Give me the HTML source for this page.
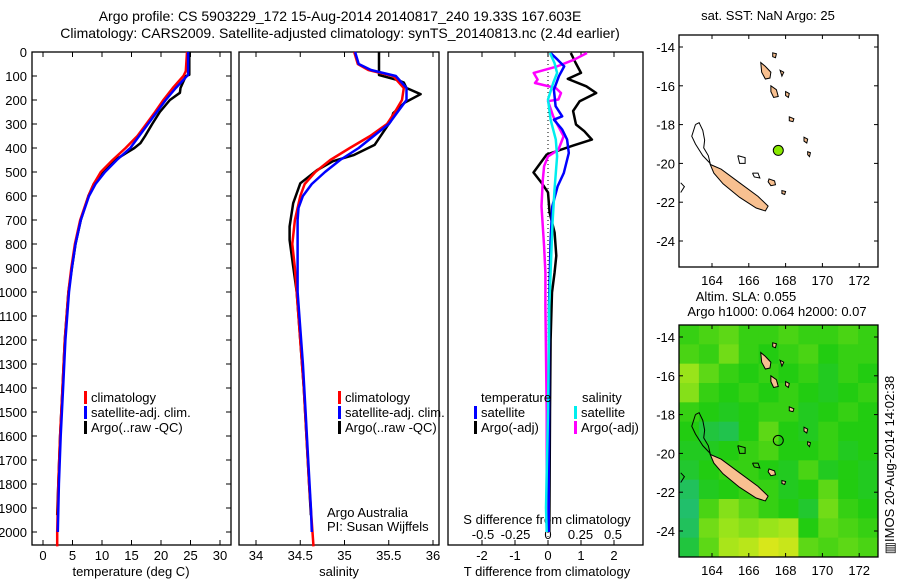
<!DOCTYPE html>
<html><head><meta charset="utf-8"><style>
html,body{margin:0;padding:0;background:#fff}
svg{display:block;font-family:"Liberation Sans",Arial,sans-serif;font-size:13px}
</style></head><body>
<svg id="s" width="900" height="580" xmlns="http://www.w3.org/2000/svg">
<text x="340" y="21" text-anchor="middle" font-size="14">Argo profile: CS 5903229_172 15-Aug-2014 20140817_240 19.33S 167.603E</text>
<text x="340" y="38" text-anchor="middle" font-size="14">Climatology: CARS2009. Satellite-adjusted climatology: synTS_20140813.nc (2.4d earlier)</text>
</svg>
<script>
// ---- data ----
const tClimD=[0,80,100,150,200,250,300,350,400,450,500,550,600,700,800,900,1000,1200,1400,1600,1800,2000,2060];
const tClimV=[24.4,24.2,23.8,22,20.4,19,17.5,16,14,11.8,9.8,8.6,7.7,6.3,5.4,4.8,4.3,3.7,3.3,2.9,2.6,2.4,2.4];
const tSatD=[0,95,150,200,300,400,450,500,550,600,700,800,900,1000,1200,1400,1600,1800,2000];
const tSatV=[24.6,24.6,22.5,20.8,17.8,14.8,12.5,10.5,8.9,7.8,6.4,5.5,4.9,4.4,3.8,3.4,3.0,2.7,2.5];
const tArgoD=[0,95,100,150,170,200,250,300,350,380,400,450,480,500,550,600,700,800,900,1000,1200,1400,1600,1800,1930];
const tArgoV=[24.8,24.8,24.2,23.3,23.2,21.5,19.8,18.5,17.3,16.5,15.5,12.2,11,10,8.6,7.7,6.4,5.5,4.9,4.3,3.7,3.3,2.9,2.6,2.4];
const sClimD=[0,50,75,100,150,200,250,300,350,400,450,500,550,600,700,800,900,1000,1400,1800,2060];
const sClimV=[35.11,35.15,35.27,35.55,35.67,35.65,35.57,35.48,35.29,35.06,34.84,34.67,34.55,34.5,34.44,34.41,34.44,34.46,34.54,34.6,34.65];
const sSatD=[0,50,75,100,150,200,250,300,350,400,450,500,550,600,650,700,1000,1300,1500,1700,1900,2000];
const sSatV=[35.12,35.16,35.3,35.58,35.7,35.7,35.6,35.5,35.33,35.16,34.95,34.78,34.63,34.53,34.48,34.47,34.47,34.53,34.56,34.59,34.62,34.63];
const sArgoD=[0,96,117,127,150,176,211,255,290,305,387,430,455,492,547,630,727,783,894,1000,1400,1800,1930];
const sArgoV=[35.39,35.39,35.6,35.67,35.7,35.86,35.68,35.55,35.52,35.49,35.34,35.1,34.87,34.69,34.5,34.42,34.38,34.38,34.42,34.46,34.54,34.6,34.62];
const dTArgoD=[4,46,87,112,143,171,205,246,302,330,365,390,427,502,544,585,669,752,849,918,1002,1200,1500,1800,2000];
const dTArgoV=[0.69,0.84,1.0,0.6,1.16,1.46,0.96,0.76,0.85,1.1,1.33,0.76,-0.04,-0.44,-0.2,0,0.05,0.2,0.25,0.2,0.12,0.08,0.06,0.05,0.04];
const dTSatD=[4,32,60,101,157,226,268,282,323,365,421,504,560,643,782,1060,1500,2000];
const dTSatV=[0.08,0.29,0.49,0.33,0.18,0.23,0.43,0.18,0.43,0.58,0.63,0.48,0.29,0.13,0.08,0.03,0.03,0.02];
const dSSatD=[4,46,87,129,198,282,365,435,574,713,1060,1500,1900,2000];
const dSSatV=[0.015,0.05,0.07,0.04,0,0.02,0.06,0.07,0.05,0.035,0.01,0,-0.015,-0.01];
const dSArgoD=[4,32,60,87,115,129,150,171,198,205,268,310,351,379,407,435,476,532,643,810,920,1060,1500,2000];
const dSArgoV=[0.3,0.2,0.07,-0.11,-0.08,-0.1,0.06,0.1,0.08,0,0.04,0.08,0.12,0.1,0.08,0,-0.03,-0.04,-0.05,-0.03,-0.02,-0.02,-0.01,-0.01];
const depthTicks=[0,100,200,300,400,500,600,700,800,900,1000,1100,1200,1300,1400,1500,1600,1700,1800,1900,2000];
const tTicks=[0,5,10,15,20,25,30];
const sTicks=[34,34.5,35,35.5,36];
const dTTicks=[-2,-1,0,1,2];
const dSTicks=[-0.5,-0.25,0,0.25,0.5];
const lonTicks=[164,166,168,170,172];
const latTicks=[-14,-16,-18,-20,-22,-24];
const sla=[
[.5,.55,.6,.5,.5,.55,.5,.5,.55,.5],
[.55,.5,.65,.5,.45,.5,.55,.45,.5,.5],
[.75,.6,.5,.45,.5,.45,.5,.4,.5,.45],
[.7,.5,.45,.5,.45,.5,.45,.4,.45,.5],
[.5,.45,.4,.45,.5,.5,.4,.45,.5,.45],
[.45,.3,.25,.45,.6,.45,.4,.5,.45,.45],
[.4,.4,.45,.5,.55,.45,.45,.5,.4,.45],
[.35,.45,.5,.5,.45,.4,.55,.4,.45,.4],
[.2,.4,.45,.5,.5,.4,.45,.6,.45,.4],
[.15,.55,.7,.6,.5,.45,.35,.65,.5,.45],
[.2,.65,.75,.7,.75,.8,.45,.6,.55,.5],
[.3,.6,.8,.85,.95,.9,.6,.55,.6,.55]];
const argoLon=167.603, argoLat=-19.33;
const islands=[
[[163.9,-20.05],[164.5,-20.3],[165.5,-21.0],[166.5,-21.7],[167.05,-22.2],[166.9,-22.45],[166.4,-22.3],[165.5,-21.75],[164.6,-21.05],[164.1,-20.5]],
[[166.65,-14.8],[166.9,-15.0],[167.2,-15.3],[167.15,-15.6],[166.9,-15.65],[166.7,-15.3]],
[[167.2,-16.0],[167.5,-16.2],[167.6,-16.55],[167.35,-16.6],[167.2,-16.3]],
[[168.2,-17.6],[168.45,-17.7],[168.4,-17.85],[168.2,-17.8]],
[[169.0,-18.65],[169.2,-18.75],[169.15,-18.95],[169.0,-18.85]],
[[169.2,-19.4],[169.35,-19.45],[169.3,-19.65],[169.2,-19.55]],
[[167.1,-20.8],[167.4,-20.9],[167.45,-21.1],[167.2,-21.15],[167.05,-20.95]],
[[167.8,-21.4],[168.0,-21.45],[167.95,-21.6],[167.8,-21.55]],
[[168.0,-16.3],[168.2,-16.4],[168.15,-16.6],[168.0,-16.5]],
[[167.7,-15.2],[167.9,-15.3],[167.8,-15.5]],
[[167.3,-14.3],[167.5,-14.35],[167.45,-14.55],[167.3,-14.5]]];
const reefs=[
[[163.1,-18.0],[163.3,-17.9],[163.5,-18.3],[163.6,-18.8],[163.55,-19.2],[163.8,-19.6],[163.9,-20.0],[163.5,-19.6],[163.1,-19.0],[162.9,-18.6],[163.1,-18.0]],
[[165.4,-19.6],[165.8,-19.7],[165.8,-20.0],[165.5,-20.0],[165.4,-19.6]],
[[166.2,-20.5],[166.5,-20.5],[166.6,-20.75],[166.3,-20.7],[166.2,-20.5]],
[[162.3,-21.0],[162.5,-21.2],[162.3,-21.5]]];

// ---- helpers ----
const S=document.getElementById('s'), NS='http://www.w3.org/2000/svg';
function mk(tag,attrs,parent){const e=document.createElementNS(NS,tag);for(const k in attrs)e.setAttribute(k,attrs[k]);(parent||S).appendChild(e);return e;}
function txt(x,y,s,anchor,extra){const e=mk('text',Object.assign({x:x,y:y,'text-anchor':anchor||'start'},extra||{}));e.textContent=s;return e;}
const yD=d=>52+0.24*d;
const xT=t=>43+5.9*t;
const xS=s=>256+88.5*(s-34);
const xdT=t=>548+33*t;
const xdS=s=>548+130*s;
function line(D,V,fx,color,w,name){
  const p=mk('polyline',{points:D.map((d,i)=>fx(V[i]).toFixed(1)+','+yD(d).toFixed(1)).join(' '),fill:'none',stroke:color,'stroke-width':w,'stroke-linejoin':'round'});
  
  
}
function frame(x0,x1,name){
  const r=mk('rect',{x:x0,y:52,width:x1-x0,height:493,fill:'none',stroke:'#000','stroke-width':1.3});
  
  
}
frame(32,231,'temperature-panel');frame(239,439,'salinity-panel');frame(448,643,'difference-panel');
depthTicks.forEach(d=>{const y=yD(d);
  mk('line',{x1:32,x2:37,y1:y,y2:y,stroke:'#000'});mk('line',{x1:226,x2:231,y1:y,y2:y,stroke:'#000'});
  const t=txt(27,y+5,String(d),'end');
  
  
});
function xticks(ticks,fx,y0){ticks.forEach(v=>{const x=fx(v);
  mk('line',{x1:x,x2:x,y1:545,y2:540,stroke:'#000'});mk('line',{x1:x,x2:x,y1:52,y2:57,stroke:'#000'});
  const t=txt(x,y0,String(v),'middle');
  
  
});}
xticks(tTicks,xT,560);xticks(sTicks,xS,560);xticks(dTTicks,xdT,560);
dSTicks.forEach(v=>{const t=txt(xdS(v),539,String(v),'middle');
  
  });
let a=txt(131,576,'temperature (deg C)','middle');
a=txt(339,576,'salinity','middle');
a=txt(547,576,'T difference from climatology','middle');
a=txt(547,524,'S difference from climatology','middle');
a=txt(327,517,'Argo Australia');
a=txt(327,531,'PI: Susan Wijffels');
mk('line',{x1:548,x2:548,y1:52,y2:545,stroke:'#000','stroke-dasharray':'1,3'});
line(tArgoD,tArgoV,xT,'#000',2.5,'temp-argo-line');
line(tClimD,tClimV,xT,'#f00',2.5,'temp-climatology-line');
line(tSatD,tSatV,xT,'#00f',2.5,'temp-satellite-line');
line(sArgoD,sArgoV,xS,'#000',2.5,'sal-argo-line');
line(sClimD,sClimV,xS,'#f00',2.5,'sal-climatology-line');
line(sSatD,sSatV,xS,'#00f',2.5,'sal-satellite-line');
line(dTArgoD,dTArgoV,xdT,'#000',2.5,'tdiff-argo-line');
line(dSArgoD,dSArgoV,xdS,'#f0f',2.5,'sdiff-argo-line');
line(dTSatD,dTSatV,xdT,'#00f',2.5,'tdiff-satellite-line');
line(dSSatD,dSSatV,xdS,'#0ee',2.5,'sdiff-satellite-line');
function leg(x,y,c,s){mk('rect',{x:x,y:y-11,width:3,height:13,fill:c});const t=txt(x+7,y,s);
  }
[[84,'#f00','climatology'],[84,'#00f','satellite-adj. clim.'],[84,'#000','Argo(..raw -QC)']].forEach((e,i)=>leg(e[0],402+i*15,e[1],e[2]));
[[338,'#f00','climatology'],[338,'#00f','satellite-adj. clim.'],[338,'#000','Argo(..raw -QC)']].forEach((e,i)=>leg(e[0],402+i*15,e[1],e[2]));
a=txt(481,402,'temperature');
a=txt(582,402,'salinity');
leg(474,417,'#00f','satellite');leg(474,432,'#000','Argo(-adj)');leg(574,417,'#0ee','satellite');leg(574,432,'#f0f','Argo(-adj)');

// ---- maps ----
const xL=lon=>712+18.4*(lon-164);
const stops=[[0,[32,184,152]],[0.45,[34,204,17]],[0.75,[153,228,26]],[1,[232,232,26]]];
function col(v){
  for(let i=1;i<stops.length;i++){
    if(v<=stops[i][0]){
      const f=(v-stops[i-1][0])/(stops[i][0]-stops[i-1][0]);
      const c=stops[i-1][1].map((c0,j)=>Math.round(c0+f*(stops[i][1][j]-c0)));
      return 'rgb('+c.join(',')+')';
    }
  }
  return 'rgb(232,232,26)';
}
function map(top,lat0y,name,bg){
  const yL=lat=>lat0y+19.4*(-14-lat);
  const g=mk('g',{});
  if(bg){
    const cp=mk('clipPath',{id:'cp'+top},g);mk('rect',{x:679,y:top,width:199,height:232},cp);
    const hg=mk('g',{'clip-path':'url(#cp'+top+')'},g);
    const cols=sla[0].length, rows=sla.length, cw=199/cols, rh=232/rows;
    sla.forEach((r,ri)=>r.forEach((v,ci)=>{
      const c=mk('rect',{x:679+ci*cw,y:top+ri*rh,width:cw+0.5,height:rh+0.5,fill:col(v)},hg);
      
      
    }));
  }
  reefs.forEach(r=>mk('polyline',{points:r.map(p=>xL(p[0])+','+yL(p[1])).join(' '),fill:'none',stroke:'#000','stroke-width':1},g));
  islands.forEach(r=>{const p=mk('polygon',{points:r.map(p=>xL(p[0])+','+yL(p[1])).join(' '),fill:'#f8c090',stroke:'#000','stroke-width':1},g);
    });
  const c=mk('circle',{cx:xL(argoLon),cy:yL(argoLat),r:5,fill:bg?'none':'#88e800',stroke:'#000','stroke-width':1},g);
  
  mk('rect',{x:679,y:top,width:199,height:232,fill:'none',stroke:'#000','stroke-width':1.3},g);
  lonTicks.forEach(l=>{const x=xL(l);mk('line',{x1:x,x2:x,y1:top,y2:top+4,stroke:'#000'},g);mk('line',{x1:x,x2:x,y1:top+232,y2:top+228,stroke:'#000'},g);
    const t=txt(x,top+250,String(l),'middle');});
  latTicks.forEach(l=>{const y=yL(l);mk('line',{x1:679,x2:683,y1:y,y2:y,stroke:'#000'},g);mk('line',{x1:878,x2:874,y1:y,y2:y,stroke:'#000'},g);
    const t=txt(675,y+5,String(l),'end');});
}
map(35,47,'sst-map',false);
map(325,337,'sla-map',true);
a=txt(768,20,'sat. SST: NaN Argo: 25','middle');
a=txt(746,301,'Altim. SLA: 0.055','middle');
a=txt(777,316,'Argo h1000: 0.064 h2000: 0.07','middle');
a=txt(0,0,'\u25A5IMOS 20-Aug-2014 14:02:38','middle',{transform:'translate(894,465) rotate(-90)'});
</script>
</body></html>
